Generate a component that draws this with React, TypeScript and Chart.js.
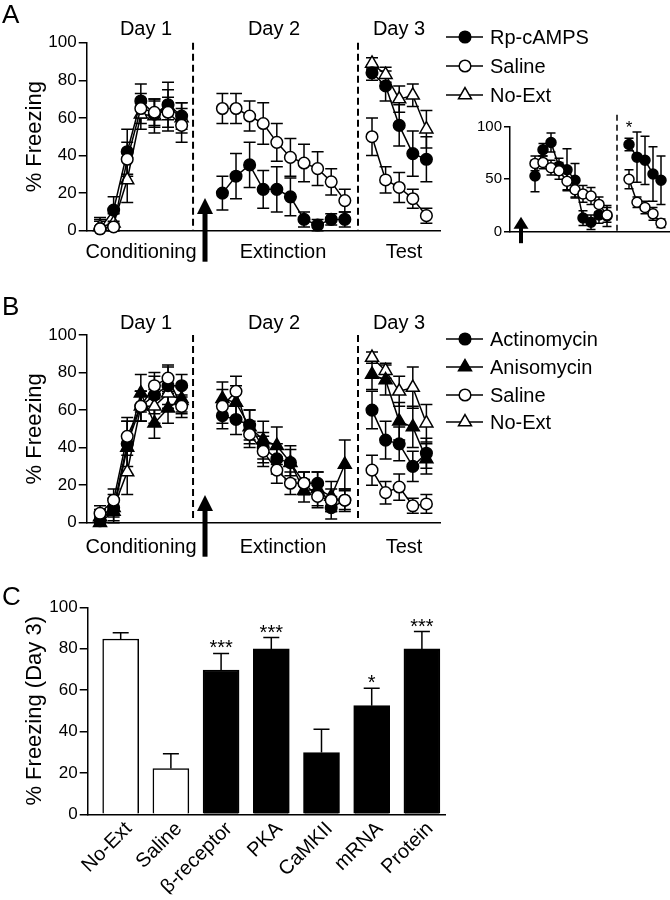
import React, { useEffect, useRef } from "react";
import { Chart, registerables } from "chart.js";

Chart.register(...registerables);

const FONT = "'Liberation Sans', Arial, Helvetica, sans-serif";

// ---------- Panel A (main) ----------
const condX = [0, 1, 2, 3, 4, 5, 6];
const extX = [9, 10, 11, 12, 13, 14, 15, 16, 17, 18];
const testX = [20, 21, 22, 23, 24];

const aRpD1 = [1, 11, 42, 69, 62, 67, 61];
const aRpD1Err = [5, 7, 12, 9, 7, 8, 7];
const aSalD1 = [1, 2, 38, 65, 63, 63, 56];
const aSalD1Err = [4, 3, 9, 8, 7, 8, 9];
const aNoExtD1 = [2, 4, 27, 62, 61, 66, 60];
const aNoExtD1Err = [5, 5, 12, 8, 9, 13, 8];
const aRpD2 = [20, 29, 35, 22, 22, 18, 6, 3, 6, 6];
const aRpD2Err = [9, 12, 12, 10, 12, 10, 4, 3, 3, 4];
const aSalD2 = [65, 65, 61, 57, 47, 39, 36, 33, 26, 16];
const aSalD2Err = [8, 8, 8, 11, 10, 10, 10, 9, 7, 6];
const aRpD3 = [84, 77, 56, 41, 38];
const aRpD3Err = [4, 8, 11, 12, 12];
const aSalD3 = [50, 27, 23, 17, 8];
const aSalD3Err = [10, 7, 8, 5, 4];
const aNoExtD3 = [89, 83, 70, 72, 54];
const aNoExtD3Err = [3, 4, 7, 6, 10];

// ---------- Panel A (inset) ----------
const insetExtX = [0, 1, 2, 3, 4, 5, 6, 7, 8, 9];
const insetTestX = [11.75, 12.75, 13.75, 14.75, 15.75];
const inRpD2 = [53, 78, 85, 62, 59, 49, 13, 9, 16, 15];
const inRpD2Err = [15, 6, 9, 8, 20, 16, 7, 7, 8, 10];
const inSalD2 = [65, 66, 61, 58, 48, 40, 36, 34, 26, 16];
const inSalD2Err = [7, 6, 7, 8, 8, 8, 8, 8, 7, 7];
const inRpD3 = [83, 71, 68, 55, 49];
const inRpD3Err = [6, 24, 23, 26, 23];
const inSalD3 = [50, 28, 23, 17, 8];
const inSalD3Err = [9, 5, 6, 6, 4];

// ---------- Panel B ----------
const bActD1 = [1, 8, 42, 62, 68, 73, 73];
const bActD1Err = [3, 7, 12, 8, 10, 10, 6];
const bAniD1 = [0, 6, 40, 69, 53, 61, 66];
const bAniD1Err = [3, 6, 14, 10, 8, 8, 7];
const bSalD1 = [5, 12, 46, 62, 73, 77, 62];
const bSalD1Err = [4, 6, 10, 8, 7, 7, 6];
const bNoExtD1 = [3, 8, 27, 62, 62, 69, 65];
const bNoExtD1Err = [4, 5, 12, 8, 9, 8, 7];
const bActD2 = [57, 55, 52, 40, 34, 32, 21, 21, 8, 12];
const bActD2Err = [7, 8, 8, 8, 8, 7, 6, 6, 6, 6];
const bAniD2 = [66, 64, 51, 44, 41, 32, 17, 18, 14, 31];
const bAniD2Err = [9, 9, 9, 10, 10, 9, 6, 9, 8, 13];
const bSalD2 = [62, 70, 47, 38, 28, 21, 21, 14, 12, 12];
const bSalD2Err = [9, 8, 7, 8, 7, 6, 6, 6, 6, 5];
const bNoExtD3 = [88, 81, 70, 72, 53];
const bNoExtD3Err = [3, 4, 8, 11, 10];
const bAniD3 = [79, 76, 54, 51, 34];
const bAniD3Err = [8, 8, 10, 11, 8];
const bActD3 = [60, 44, 42, 30, 37];
const bActD3Err = [10, 10, 9, 8, 8];
const bSalD3 = [28, 16, 19, 9, 10];
const bSalD3Err = [8, 6, 7, 4, 5];

// ---------- Panel C ----------
const cCategories = ["No-Ext", "Saline", "β-receptor", "PKA", "CaMKII", "mRNA", "Protein"];
const cValues = [84.7, 22.1, 69.7, 79.9, 29.8, 52.5, 79.9];
const cErrors = [3, 7.2, 8, 5.5, 11.3, 8.4, 8.4];
const cSignif = ["", "", "***", "***", "", "*", "***"];
const cFills = ["#ffffff", "#ffffff", "#000000", "#000000", "#000000", "#000000", "#000000"];

type Style = "circle" | "triangle";

function drawMarker(ctx: CanvasRenderingContext2D, style: Style, x: number, y: number, r: number, fill: string) {
  ctx.save();
  ctx.beginPath();
  if (style === "circle") {
    ctx.arc(x, y, r, 0, Math.PI * 2);
  } else {
    for (let k = 0; k < 3; k++) {
      const a = (k * 2 * Math.PI) / 3;
      const px = x + Math.sin(a) * r;
      const py = y - Math.cos(a) * r;
      if (k === 0) ctx.moveTo(px, py);
      else ctx.lineTo(px, py);
    }
    ctx.closePath();
  }
  ctx.fillStyle = fill;
  ctx.fill();
  ctx.lineWidth = 1.5;
  ctx.strokeStyle = "#000";
  ctx.stroke();
  ctx.restore();
}

type Deco = {
  vlines?: { x: number; top?: number; dash?: number[]; width?: number }[];
  arrows?: { x: number; tip: number; end: number; headLen: number; headW: number; shaftW: number }[];
  texts?: { t: string; x: number; y: number; size: number; align?: CanvasTextAlign }[];
  legend?: { label: string; style: Style; fill: string; y: number }[];
  legendGeom?: { x0: number; x1: number; mx: number; tx: number; size: number; r: number; rt: number };
  dataTexts?: { t: string; x: number; y: number; size: number }[];
};

function makeDeco(d: Deco) {
  return {
    id: "deco",
    beforeDatasetsDraw(chart: any) {
      const ctx: CanvasRenderingContext2D = chart.ctx;
      const ca = chart.chartArea;
      const xs = chart.scales.x;
      const ys = chart.scales.y;
      (d.vlines || []).forEach((v) => {
        const px = xs.getPixelForValue(v.x);
        ctx.save();
        ctx.setLineDash(v.dash || [7, 4]);
        ctx.lineWidth = v.width || 2;
        ctx.strokeStyle = "#000";
        ctx.beginPath();
        ctx.moveTo(px, ca.top + (v.top || 0));
        ctx.lineTo(px, ca.bottom);
        ctx.stroke();
        ctx.restore();
      });
      chart.data.datasets.forEach((ds: any) => {
        const errs = ds.errorBars;
        if (!errs) return;
        const cap = ds.capWidth ?? 12;
        ctx.save();
        ctx.strokeStyle = "#000";
        ctx.lineWidth = 1.5;
        ctx.setLineDash([]);
        ds.data.forEach((p: any, i: number) => {
          const e = errs[i];
          if (e == null) return;
          const x = xs.getPixelForValue(p.x);
          const y1 = ys.getPixelForValue(p.y + e);
          const y0 = ds.errorUpOnly ? ys.getPixelForValue(p.y) : ys.getPixelForValue(Math.max(0, p.y - e));
          ctx.beginPath();
          ctx.moveTo(x, y1);
          ctx.lineTo(x, y0);
          ctx.moveTo(x - cap / 2, y1);
          ctx.lineTo(x + cap / 2, y1);
          if (!ds.errorUpOnly) {
            ctx.moveTo(x - cap / 2, y0);
            ctx.lineTo(x + cap / 2, y0);
          }
          ctx.stroke();
        });
        ctx.restore();
      });
    },
    afterDraw(chart: any) {
      const ctx: CanvasRenderingContext2D = chart.ctx;
      const ca = chart.chartArea;
      const xs = chart.scales.x;
      const ys = chart.scales.y;
      (d.arrows || []).forEach((a) => {
        const px = xs.getPixelForValue(a.x);
        const tipY = ca.bottom + a.tip;
        const baseY = tipY + a.headLen;
        const endY = ca.bottom + a.end;
        ctx.save();
        ctx.fillStyle = "#000";
        ctx.beginPath();
        ctx.moveTo(px, tipY);
        ctx.lineTo(px + a.headW / 2, baseY);
        ctx.lineTo(px - a.headW / 2, baseY);
        ctx.closePath();
        ctx.fill();
        ctx.fillRect(px - a.shaftW / 2, baseY - 1, a.shaftW, endY - baseY + 1);
        ctx.restore();
      });
      (d.texts || []).forEach((t) => {
        ctx.save();
        ctx.fillStyle = "#000";
        ctx.font = `${t.size}px ${FONT}`;
        ctx.textAlign = t.align || "center";
        ctx.textBaseline = "alphabetic";
        ctx.fillText(t.t, t.x, t.y);
        ctx.restore();
      });
      (d.dataTexts || []).forEach((t) => {
        ctx.save();
        ctx.fillStyle = "#000";
        ctx.font = `${t.size}px ${FONT}`;
        ctx.textAlign = "center";
        ctx.textBaseline = "alphabetic";
        ctx.fillText(t.t, xs.getPixelForValue(t.x), ys.getPixelForValue(t.y) + 1);
        ctx.restore();
      });
      const g = d.legendGeom;
      if (g) {
        (d.legend || []).forEach((it) => {
          ctx.save();
          ctx.strokeStyle = "#000";
          ctx.lineWidth = 1.5;
          ctx.beginPath();
          ctx.moveTo(g.x0, it.y);
          ctx.lineTo(g.x1, it.y);
          ctx.stroke();
          drawMarker(ctx, it.style, g.mx, it.y, it.style === "triangle" ? g.rt : g.r, it.fill);
          ctx.fillStyle = "#000";
          ctx.font = `${g.size}px ${FONT}`;
          ctx.textAlign = "left";
          ctx.textBaseline = "middle";
          ctx.fillText(it.label, g.tx, it.y + 1);
          ctx.restore();
        });
      }
    },
  };
}

function series(xs: number[], ys: number[], errs: number[], style: Style, fill: string, r: number, cap = 12) {
  return {
    type: "line",
    data: xs.map((x, i) => ({ x, y: ys[i] })),
    errorBars: errs,
    capWidth: cap,
    borderColor: "#000",
    borderWidth: 1.5,
    pointStyle: style,
    pointRadius: r,
    pointHoverRadius: r,
    pointBackgroundColor: fill,
    pointBorderColor: "#000",
    pointBorderWidth: 1.5,
    pointHoverBorderWidth: 1.5,
    fill: false,
    tension: 0,
    clip: false,
  };
}

type AxisCfg = {
  xMin: number;
  xMax: number;
  padLeft: number;
  padRight: number;
  padTop: number;
  padBottom: number;
  yWidth: number;
  xHeight: number;
  yTitle?: string;
  yStep: number;
  tickSize: number;
  tickLen: number;
};

function lineOptions(c: AxisCfg) {
  return {
    animation: false,
    responsive: false,
    maintainAspectRatio: false,
    events: [],
    layout: { autoPadding: false, padding: { left: c.padLeft, right: c.padRight, top: c.padTop, bottom: c.padBottom } },
    plugins: { legend: { display: false }, tooltip: { enabled: false } },
    scales: {
      x: {
        type: "linear",
        min: c.xMin,
        max: c.xMax,
        ticks: { display: false },
        grid: { display: false },
        border: { display: true, color: "#000", width: 1.5 },
        afterFit: (s: any) => {
          s.height = c.xHeight;
          s.paddingLeft = 0;
          s.paddingRight = 0;
        },
      },
      y: {
        type: "linear",
        min: 0,
        max: 100,
        ticks: {
          stepSize: c.yStep,
          color: "#000",
          padding: 2,
          font: { family: FONT, size: c.tickSize },
        },
        grid: { drawOnChartArea: false, drawTicks: true, tickLength: c.tickLen, color: "#000", lineWidth: 1.5 },
        border: { display: true, color: "#000", width: 1.5 },
        title: c.yTitle
          ? { display: true, text: c.yTitle, color: "#000", font: { family: FONT, size: 22 }, padding: { top: 4, bottom: 0 } }
          : { display: false },
        afterFit: (s: any) => {
          s.width = c.yWidth;
        },
      },
    },
  };
}

const legendGeom = { x0: 446, x1: 483, mx: 465, tx: 490, size: 20, r: 5.8, rt: 7.5 };

function configA() {
  const datasets = [
    series(condX, aSalD1, aSalD1Err, "circle", "#fff", 5.8),
    series(extX, aSalD2, aSalD2Err, "circle", "#fff", 5.8),
    series(testX, aSalD3, aSalD3Err, "circle", "#fff", 5.8),
    series(condX, aRpD1, aRpD1Err, "circle", "#000", 5.8),
    series(extX, aRpD2, aRpD2Err, "circle", "#000", 5.8),
    series(testX, aRpD3, aRpD3Err, "circle", "#000", 5.8),
    series(condX, aNoExtD1, aNoExtD1Err, "triangle", "#fff", 7.5),
    series(testX, aNoExtD3, aNoExtD3Err, "triangle", "#fff", 7.5),
  ];
  const deco: Deco = {
    vlines: [{ x: 6.84 }, { x: 18.97 }],
    arrows: [{ x: 7.72, tip: -32.7, end: 31, headLen: 16, headW: 16, shaftW: 5 }],
    texts: [
      { t: "A", x: 2, y: 23, size: 26, align: "left" },
      { t: "Day 1", x: 146, y: 34.5, size: 20 },
      { t: "Day 2", x: 274, y: 34.5, size: 20 },
      { t: "Day 3", x: 399, y: 34.5, size: 20 },
      { t: "Conditioning", x: 141, y: 257.5, size: 20 },
      { t: "Extinction", x: 283, y: 257.5, size: 20 },
      { t: "Test", x: 404, y: 257.5, size: 20 },
    ],
    legend: [
      { label: "Rp-cAMPS", style: "circle", fill: "#000", y: 37 },
      { label: "Saline", style: "circle", fill: "#fff", y: 66 },
      { label: "No-Ext", style: "triangle", fill: "#fff", y: 95 },
    ],
    legendGeom,
  };
  return {
    type: "line",
    data: { datasets },
    options: lineOptions({
      xMin: -0.98, xMax: 25.0, padLeft: 18, padRight: 230, padTop: 42.7, padBottom: 290 - 230.7 - 4,
      yWidth: 68.7, xHeight: 4, yTitle: "% Freezing", yStep: 20, tickSize: 17, tickLen: 8,
    }),
    plugins: [makeDeco(deco)],
  };
}

function configInset() {
  const datasets = [
    series(insetExtX, inSalD2, inSalD2Err, "circle", "#fff", 5, 9),
    series(insetTestX, inSalD3, inSalD3Err, "circle", "#fff", 5, 9),
    series(insetExtX, inRpD2, inRpD2Err, "circle", "#000", 5, 9),
    series(insetTestX, inRpD3, inRpD3Err, "circle", "#000", 5, 9),
  ];
  const deco: Deco = {
    vlines: [{ x: 10.25, top: -12, dash: [6, 4], width: 1.5 }],
    arrows: [{ x: -1.75, tip: -15, end: 11.5, headLen: 12, headW: 15, shaftW: 4 }],
    dataTexts: [{ t: "*", x: insetTestX[0], y: 95, size: 17 }],
  };
  return {
    type: "line",
    data: { datasets },
    options: lineOptions({
      xMin: -3.125, xMax: 16.875, padLeft: 0, padRight: 0, padTop: 36.7, padBottom: 170 - 141.7 - 2,
      yWidth: 70, xHeight: 2, yStep: 50, tickSize: 15, tickLen: 6,
    }),
    plugins: [makeDeco(deco)],
  };
}

function configB() {
  const datasets = [
    series(condX, bSalD1, bSalD1Err, "circle", "#fff", 5.8),
    series(extX, bSalD2, bSalD2Err, "circle", "#fff", 5.8),
    series(testX, bSalD3, bSalD3Err, "circle", "#fff", 5.8),
    series(condX, bActD1, bActD1Err, "circle", "#000", 5.8),
    series(extX, bActD2, bActD2Err, "circle", "#000", 5.8),
    series(testX, bActD3, bActD3Err, "circle", "#000", 5.8),
    series(condX, bAniD1, bAniD1Err, "triangle", "#000", 7.5),
    series(extX, bAniD2, bAniD2Err, "triangle", "#000", 7.5),
    series(testX, bAniD3, bAniD3Err, "triangle", "#000", 7.5),
    series(condX, bNoExtD1, bNoExtD1Err, "triangle", "#fff", 7.5),
    series(testX, bNoExtD3, bNoExtD3Err, "triangle", "#fff", 7.5),
  ];
  const deco: Deco = {
    vlines: [{ x: 6.84 }, { x: 18.97 }],
    arrows: [{ x: 7.72, tip: -27.7, end: 34, headLen: 16, headW: 16, shaftW: 5 }],
    texts: [
      { t: "B", x: 2, y: 25, size: 26, align: "left" },
      { t: "Day 1", x: 146, y: 39.3, size: 20 },
      { t: "Day 2", x: 274, y: 39.3, size: 20 },
      { t: "Day 3", x: 399, y: 39.3, size: 20 },
      { t: "Conditioning", x: 141, y: 262.6, size: 20 },
      { t: "Extinction", x: 283, y: 262.6, size: 20 },
      { t: "Test", x: 404, y: 262.6, size: 20 },
    ],
    legend: [
      { label: "Actinomycin", style: "circle", fill: "#000", y: 49 },
      { label: "Anisomycin", style: "triangle", fill: "#000", y: 77 },
      { label: "Saline", style: "circle", fill: "#fff", y: 105 },
      { label: "No-Ext", style: "triangle", fill: "#fff", y: 132 },
    ],
    legendGeom,
  };
  return {
    type: "line",
    data: { datasets },
    options: lineOptions({
      xMin: -0.98, xMax: 25.0, padLeft: 18, padRight: 230, padTop: 45, padBottom: 270 - 232.7 - 4,
      yWidth: 68.7, xHeight: 4, yTitle: "% Freezing", yStep: 20, tickSize: 17, tickLen: 8,
    }),
    plugins: [makeDeco(deco)],
  };
}

function configC() {
  const idx = cCategories.map((_, i) => i);
  const deco: Deco = {
    texts: [{ t: "C", x: 2, y: 45, size: 26, align: "left" }],
    dataTexts: idx
      .filter((i) => cSignif[i])
      .map((i) => ({ t: cSignif[i], x: i, y: cValues[i] + cErrors[i], size: 20 })),
  };
  return {
    type: "bar",
    data: {
      datasets: [
        {
          data: idx.map((i) => ({ x: i, y: cValues[i] })),
          backgroundColor: cFills,
          borderColor: "#000",
          borderWidth: 1.5,
          borderSkipped: "bottom",
          barThickness: 36,
          errorBars: cErrors,
          errorUpOnly: true,
          capWidth: 16,
        },
      ],
    },
    options: {
      animation: false,
      responsive: false,
      maintainAspectRatio: false,
      events: [],
      layout: { autoPadding: false, padding: { left: 18, right: 225, top: 47.3, bottom: 340 - 254.3 - 80 } },
      plugins: { legend: { display: false }, tooltip: { enabled: false } },
      scales: {
        x: {
          type: "linear",
          offset: false,
          min: -0.657,
          max: 6.46,
          ticks: {
            stepSize: 1,
            includeBounds: false,
            autoSkip: false,
            minRotation: 45,
            maxRotation: 45,
            color: "#000",
            padding: -5,
            labelOffset: 8,
            font: { family: FONT, size: 20 },
            callback: (v: number) => (Number.isInteger(v) && v >= 0 && v < cCategories.length ? cCategories[v] : ""),
          },
          grid: { display: false, offset: false },
          border: { display: true, color: "#000", width: 1.5 },
          afterFit: (s: any) => {
            s.height = 80;
            s.paddingLeft = 0;
            s.paddingRight = 0;
          },
        },
        y: {
          type: "linear",
          min: 0,
          max: 100,
          ticks: { stepSize: 20, color: "#000", padding: 2, font: { family: FONT, size: 17 } },
          grid: { drawOnChartArea: false, drawTicks: true, tickLength: 8, color: "#000", lineWidth: 1.5 },
          border: { display: true, color: "#000", width: 1.5 },
          title: { display: true, text: "% Freezing (Day 3)", color: "#000", font: { family: FONT, size: 22 }, padding: { top: 4, bottom: 0 } },
          afterFit: (s: any) => {
            s.width = 69.7;
          },
        },
      },
    },
    plugins: [makeDeco(deco)],
  };
}

export default function App() {
  const aRef = useRef<HTMLCanvasElement>(null);
  const iRef = useRef<HTMLCanvasElement>(null);
  const bRef = useRef<HTMLCanvasElement>(null);
  const cRef = useRef<HTMLCanvasElement>(null);

  useEffect(() => {
    const charts: Chart[] = [];
    if (aRef.current) charts.push(new Chart(aRef.current, configA() as any));
    if (iRef.current) charts.push(new Chart(iRef.current, configInset() as any));
    if (bRef.current) charts.push(new Chart(bRef.current, configB() as any));
    if (cRef.current) charts.push(new Chart(cRef.current, configC() as any));
    return () => charts.forEach((c) => c.destroy());
  }, []);

  const abs = (left: number, top: number, w: number, h: number): React.CSSProperties => ({
    position: "absolute",
    left,
    top,
    width: w,
    height: h,
  });

  return (
    <div style={{ position: "absolute", left: 0, top: 0, width: 670, height: 900, background: "#fff", overflow: "hidden" }}>
      <canvas ref={aRef} width={670} height={290} style={abs(0, 0, 670, 290)} />
      <canvas ref={iRef} width={230} height={170} style={abs(440, 90, 230, 170)} />
      <canvas ref={bRef} width={670} height={270} style={abs(0, 290, 670, 270)} />
      <canvas ref={cRef} width={670} height={340} style={abs(0, 560, 670, 340)} />
    </div>
  );
}
